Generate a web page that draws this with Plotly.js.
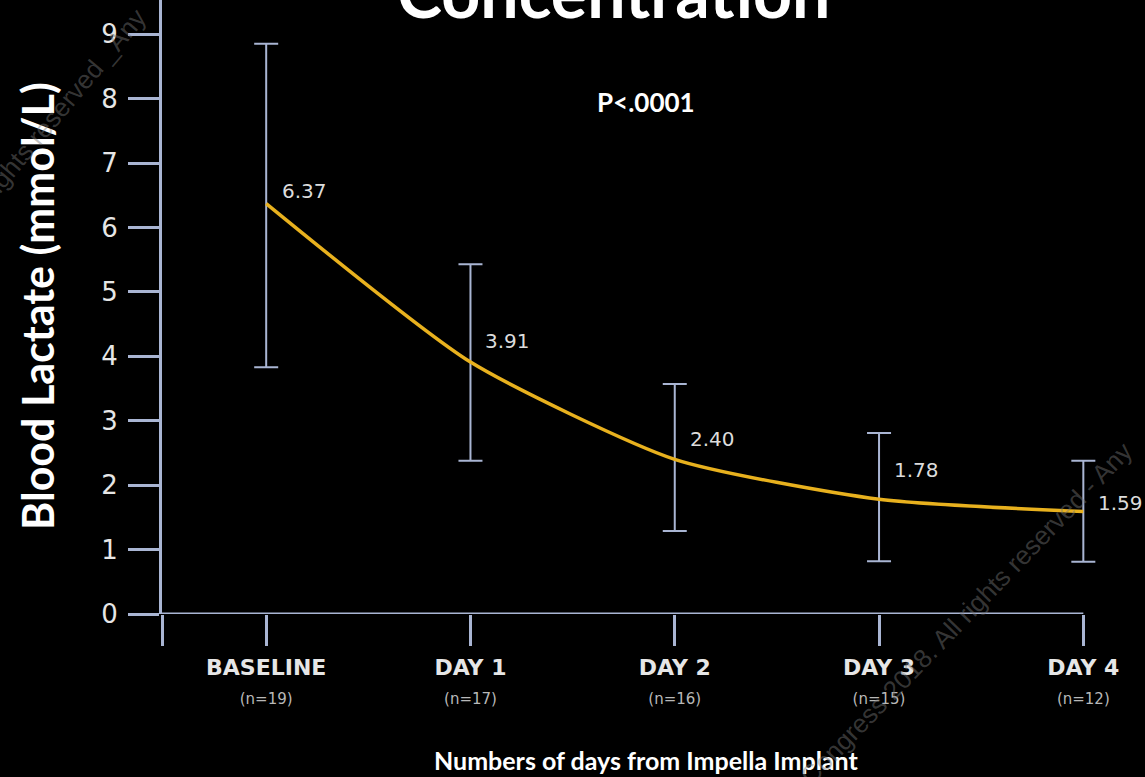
<!DOCTYPE html>
<html>
<head>
<meta charset="utf-8">
<script src="https://cdn.plot.ly/plotly-3.0.1.min.js"></script>
<style>
  html, body { margin: 0; padding: 0; background: #000; }
  #chart { width: 1145px; height: 777px; }
</style>
</head>
<body>
<div id="chart"></div>
<script>
// Blood lactate (mmol/L) by day after Impella implant
const days = ['BASELINE', 'DAY 1', 'DAY 2', 'DAY 3', 'DAY 4'];
const counts = ['(n=19)', '(n=17)', '(n=16)', '(n=15)', '(n=12)'];
const lactate = [6.37, 3.91, 2.40, 1.78, 1.59];
const errUpper = [2.48, 1.52, 1.17, 1.03, 0.79];
const errLower = [2.54, 1.53, 1.11, 0.96, 0.78];
const yTicks = [0, 1, 2, 3, 4, 5, 6, 7, 8, 9];

// label offsets (px) for the value annotations
const labelDx = [14, 13, 13, 13, 13];
const labelDy = [13, 21, 20, 29, 9];

const axisColor = '#a9b5d3';
const lineColor = '#e8b11e';
const xIdx = days.map((d, i) => i);
const xStart = -0.51;            // left end of the category axis
const xEnd = xIdx[xIdx.length - 1];

const trace = {
  x: xIdx,
  y: lactate,
  type: 'scatter',
  mode: 'lines',
  line: { color: lineColor, width: 3.5, shape: 'spline', smoothing: 0.6 },
  error_y: {
    type: 'data', symmetric: false,
    array: errUpper, arrayminus: errLower,
    color: axisColor, thickness: 2, width: 12
  },
  cliponaxis: false,
  hoverinfo: 'skip'
};

const tickText = [''].concat(days.map((d, i) =>
  '<b>' + d + '</b><br>' +
  '<span style="font-size:15px;color:#b8b8b8">' + counts[i] + '</span>'));

const annotations = lactate.map((v, i) => ({
  xref: 'x', yref: 'y', x: i, y: v,
  text: v.toFixed(2), showarrow: false,
  xanchor: 'left', yanchor: 'middle',
  xshift: labelDx[i], yshift: labelDy[i],
  font: { family: 'DejaVu Sans, sans-serif', size: 20, color: '#dcdcdc' }
}));

const titleFont = 'Lato, sans-serif';
annotations.push({
  xref: 'paper', yref: 'paper', x: 0.460, y: 1,
  yanchor: 'top', yshift: 51, showarrow: false,
  text: '<b>Concentration</b>',
  font: { family: titleFont, size: 68, color: '#ffffff' }
});
annotations.push({
  xref: 'paper', yref: 'y', x: 0.493, y: 7.95,
  showarrow: false, text: '<b>P&lt;.0001</b>',
  font: { family: titleFont, size: 26, color: '#ffffff' }
});
annotations.push({
  xref: 'paper', yref: 'paper', x: -0.1273, y: 0.5016,
  xanchor: 'center', yanchor: 'middle', textangle: -90, showarrow: false,
  text: '<b>Blood Lactate (mmol/L)</b>',
  font: { family: titleFont, size: 43, color: '#ffffff' }
});
annotations.push({
  xref: 'paper', yref: 'paper', x: 0.4929, y: -0.2378,
  xanchor: 'center', yanchor: 'middle', showarrow: false,
  text: '<b>Numbers of days from Impella Implant</b>',
  font: { family: titleFont, size: 25, color: '#ffffff' }
});

// faint diagonal watermarks
const wmFont = { family: 'Liberation Sans, Arial, sans-serif', size: 26, color: 'rgba(120,120,120,0.45)' };
annotations.push({
  xref: 'paper', yref: 'paper', x: -0.112, y: 0.808, xanchor: 'center', yanchor: 'middle',
  showarrow: false, textangle: -50, text: 'All rights reserved _Any', font: wmFont
});
annotations.push({
  xref: 'paper', yref: 'paper', x: 0.8096, y: -0.0147, xanchor: 'center', yanchor: 'middle',
  showarrow: false, textangle: -46,
  text: '© Congress 2018. All rights reserved - Any', font: wmFont
});

const layout = {
  width: 1145, height: 777,
  paper_bgcolor: '#000000', plot_bgcolor: '#000000',
  margin: { l: 162, r: 1, t: 0, b: 163 },
  showlegend: false,
  xaxis: {
    range: [xStart, 4.297],
    tickmode: 'array',
    tickvals: [xStart].concat(xIdx),
    ticktext: tickText,
    ticks: 'outside', ticklen: 31, tickwidth: 3, tickcolor: axisColor,
    ticklabelstandoff: 3,
    showline: false, showgrid: false, zeroline: false,
    tickfont: { family: 'DejaVu Sans, sans-serif', size: 22, color: '#e6e6e6' }
  },
  yaxis: {
    range: [0, 9.53],
    tickmode: 'array',
    tickvals: yTicks,
    ticks: 'outside', ticklen: 31, tickwidth: 3, tickcolor: axisColor,
    ticklabelstandoff: 5,
    showline: true, linecolor: axisColor, linewidth: 3,
    showgrid: false, zeroline: false,
    tickfont: { family: 'DejaVu Sans, sans-serif', size: 26, color: '#e6e6e6' }
  },
  // category axis line, stopping at the last day
  shapes: [{
    type: 'line', xref: 'x', yref: 'y',
    x0: xStart, x1: xEnd, y0: 0, y1: 0,
    line: { color: axisColor, width: 3 }, layer: 'below'
  }],
  annotations: annotations
};

Plotly.newPlot('chart', [trace], layout, { staticPlot: true, displayModeBar: false });
</script>
</body>
</html>
